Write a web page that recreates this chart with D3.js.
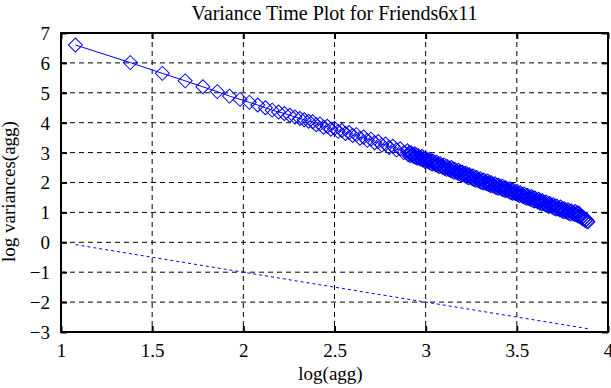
<!DOCTYPE html>
<html>
<head>
<meta charset="utf-8">
<script src="https://cdn.jsdelivr.net/npm/d3@7"></script>
<style>
  html, body { margin: 0; padding: 0; background: #fff; }
  svg { display: block; }
</style>
</head>
<body>
<svg id="chart" width="611" height="388"></svg>
<script>
// ---- data ----
const chartTitle = "Variance Time Plot for Friends6x11";
const xLabel = "log(agg)";
const yLabel = "log variances(agg)";

const xTicks = [1, 1.5, 2, 2.5, 3, 3.5, 4];
const xTickLabels = ["1", "1.5", "2", "2.5", "3", "3.5", "4"];
const yTicks = [-3, -2, -1, 0, 1, 2, 3, 4, 5, 6, 7];
const yTickLabels = ["\u22123", "\u22122", "\u22121", "0", "1", "2", "3", "4", "5", "6", "7"];

// log(agg) values of the measured points
const logAgg = [
  1.079, 1.380, 1.556, 1.681, 1.778, 1.857, 1.924, 1.982, 2.033, 2.079,
  2.121, 2.158, 2.193, 2.225, 2.255, 2.283, 2.310, 2.334, 2.358,
  2.38, 2.40, 2.42, 2.44, 2.46, 2.48, 2.50, 2.52, 2.54, 2.56, 2.58, 2.60,
  2.62, 2.64, 2.66, 2.68, 2.70, 2.72, 2.74, 2.76, 2.78, 2.80, 2.82, 2.84,
  2.86, 2.88,
  2.900, 2.905, 2.910, 2.915, 2.920, 2.925, 2.930, 2.935, 2.940, 2.945,
  2.950, 2.955, 2.960, 2.965, 2.970, 2.975, 2.980, 2.985, 2.990, 2.995,
  3.000, 3.005, 3.010, 3.015, 3.020, 3.025, 3.030, 3.035, 3.040, 3.045,
  3.050, 3.055, 3.060, 3.065, 3.070, 3.075, 3.080, 3.085, 3.090, 3.095,
  3.100, 3.105, 3.110, 3.115, 3.120, 3.125, 3.130, 3.135, 3.140, 3.145,
  3.150, 3.155, 3.160, 3.165, 3.170, 3.175, 3.180, 3.185, 3.190, 3.195,
  3.200, 3.205, 3.210, 3.215, 3.220, 3.225, 3.230, 3.235, 3.240, 3.245,
  3.250, 3.255, 3.260, 3.265, 3.270, 3.275, 3.280, 3.285, 3.290, 3.295,
  3.300, 3.305, 3.310, 3.315, 3.320, 3.325, 3.330, 3.335, 3.340, 3.345,
  3.350, 3.355, 3.360, 3.365, 3.370, 3.375, 3.380, 3.385, 3.390, 3.395,
  3.400, 3.405, 3.410, 3.415, 3.420, 3.425, 3.430, 3.435, 3.440, 3.445,
  3.450, 3.455, 3.460, 3.465, 3.470, 3.475, 3.480, 3.485, 3.490, 3.495,
  3.500, 3.505, 3.510, 3.515, 3.520, 3.525, 3.530, 3.535, 3.540, 3.545,
  3.550, 3.555, 3.560, 3.565, 3.570, 3.575, 3.580, 3.585, 3.590, 3.595,
  3.600, 3.605, 3.610, 3.615, 3.620, 3.625, 3.630, 3.635, 3.640, 3.645,
  3.650, 3.655, 3.660, 3.665, 3.670, 3.675, 3.680, 3.685, 3.690, 3.695,
  3.700, 3.705, 3.710, 3.715, 3.720, 3.725, 3.730, 3.735, 3.740, 3.745,
  3.750, 3.755, 3.760, 3.765, 3.770, 3.775, 3.780, 3.785, 3.790, 3.795,
  3.800, 3.805, 3.810, 3.815, 3.820, 3.825, 3.830, 3.835, 3.840, 3.845,
  3.850, 3.855, 3.860, 3.865, 3.870, 3.875, 3.880, 3.885, 3.890
];
// log variances(agg) of the measured points
const logVar = [
  6.60, 6.01, 5.65, 5.40, 5.20, 5.04, 4.89, 4.78, 4.68, 4.59,
  4.50, 4.42, 4.36, 4.31, 4.25, 4.19, 4.14, 4.10, 4.05,
  4.03, 3.93, 3.96, 3.85, 3.88, 3.78, 3.81, 3.71, 3.74, 3.64, 3.67, 3.57,
  3.60, 3.48, 3.52, 3.41, 3.45, 3.33, 3.37, 3.25, 3.29, 3.17, 3.21, 3.09,
  3.13, 3.00,
  3.06, 2.93, 3.00, 2.90, 3.00, 2.91, 2.94, 2.87, 2.96, 2.84,
  2.91, 2.81, 2.90, 2.81, 2.84, 2.78, 2.87, 2.75, 2.81, 2.71,
  2.81, 2.72, 2.75, 2.69, 2.77, 2.65, 2.72, 2.62, 2.72, 2.63,
  2.66, 2.59, 2.68, 2.56, 2.63, 2.53, 2.63, 2.54, 2.56, 2.50,
  2.59, 2.47, 2.54, 2.44, 2.53, 2.44, 2.47, 2.41, 2.50, 2.38,
  2.45, 2.34, 2.44, 2.35, 2.38, 2.32, 2.41, 2.29, 2.35, 2.25,
  2.35, 2.26, 2.29, 2.23, 2.31, 2.19, 2.26, 2.16, 2.26, 2.17,
  2.20, 2.13, 2.22, 2.10, 2.17, 2.07, 2.17, 2.08, 2.10, 2.04,
  2.13, 2.01, 2.08, 1.98, 2.08, 1.99, 2.02, 1.96, 2.05, 1.93,
  2.00, 1.90, 1.99, 1.90, 1.93, 1.87, 1.96, 1.84, 1.91, 1.81,
  1.91, 1.82, 1.85, 1.79, 1.88, 1.76, 1.83, 1.73, 1.83, 1.74,
  1.77, 1.71, 1.79, 1.67, 1.74, 1.64, 1.74, 1.65, 1.68, 1.62,
  1.71, 1.59, 1.66, 1.56, 1.66, 1.56, 1.59, 1.53, 1.62, 1.50,
  1.57, 1.47, 1.57, 1.47, 1.50, 1.44, 1.53, 1.41, 1.48, 1.38,
  1.48, 1.39, 1.41, 1.35, 1.44, 1.32, 1.39, 1.29, 1.39, 1.30,
  1.32, 1.26, 1.35, 1.23, 1.30, 1.20, 1.30, 1.21, 1.24, 1.18,
  1.26, 1.14, 1.21, 1.11, 1.21, 1.12, 1.15, 1.09, 1.18, 1.06,
  1.12, 1.02, 1.12, 1.03, 1.06, 1.00, 1.09, 0.97, 1.05, 0.95,
  1.05, 0.97, 1.00, 0.94, 1.03, 0.92, 0.99, 0.88, 0.97, 0.86,
  0.88, 0.81, 0.86, 0.78, 0.80, 0.73, 0.76, 0.70, 0.69
];
// reference line (slope -1)
const refX = [1.08, 3.89];
const refY = [-0.08, -2.89];

// ---- layout ----
const FONT = '"Liberation Serif"';
const FS = 19;
const svg = d3.select("#chart");
const L = 61, R = 608, T = 33, B = 332;
const x = d3.scaleLinear().domain([1, 4]).range([L, R]);
const y = d3.scaleLinear().domain([-3, 7]).range([B, T]);
const blue = "#0000ff";

// grid
const g = svg.append("g");
g.selectAll(".vg").data(xTicks.slice(1, -1)).enter().append("line")
  .attr("x1", d => x(d)).attr("x2", d => x(d)).attr("y1", T).attr("y2", B)
  .attr("stroke", "#000").attr("stroke-width", 1).attr("stroke-dasharray", "5,4");
g.selectAll(".hg").data(yTicks.slice(1, -1)).enter().append("line")
  .attr("x1", L).attr("x2", R).attr("y1", d => y(d)).attr("y2", d => y(d))
  .attr("stroke", "#000").attr("stroke-width", 1).attr("stroke-dasharray", "5,4");

// axes with inward ticks
const axB = svg.append("g").attr("transform", `translate(0,${B})`)
  .call(d3.axisBottom(x).tickValues(xTicks).tickFormat((d, i) => xTickLabels[i]).tickSize(-6).tickPadding(12));
const axT = svg.append("g").attr("transform", `translate(0,${T})`)
  .call(d3.axisTop(x).tickValues(xTicks).tickFormat("").tickSize(-6));
const axL = svg.append("g").attr("transform", `translate(${L},0)`)
  .call(d3.axisLeft(y).tickValues(yTicks).tickFormat((d, i) => yTickLabels[i]).tickSize(-6).tickPadding(11));
const axR = svg.append("g").attr("transform", `translate(${R},0)`)
  .call(d3.axisRight(y).tickValues(yTicks).tickFormat("").tickSize(-6));
[axB, axT, axL, axR].forEach(a => {
  a.attr("font-family", null);
  a.select(".domain").remove();
  a.selectAll(".tick line").attr("stroke", "#000").attr("stroke-width", 2);
  a.selectAll("text").attr("font-size", FS).style("font-family", FONT).attr("fill", "#000");
});
axL.selectAll(".tick text").attr("dy", "0.34em");

// frame
svg.append("rect").attr("x", x(1)).attr("y", y(7)).attr("width", x(4) - x(1)).attr("height", y(-3) - y(7))
  .attr("fill", "none").attr("stroke", "#000").attr("stroke-width", 2);

// data line + diamonds
const pts = logAgg.map((v, i) => [v, logVar[i]]);
svg.append("path").datum(pts.slice(0, 45))
  .attr("d", d3.line().x(d => x(d[0])).y(d => y(d[1])))
  .attr("fill", "none").attr("stroke", blue).attr("stroke-width", 1);
const sym = d3.symbol().type(d3.symbolSquare).size(98);
svg.append("g").selectAll("path").data(pts).enter().append("path")
  .attr("d", sym)
  .attr("transform", d => `translate(${x(d[0])},${y(d[1])}) rotate(45)`)
  .attr("fill", "none").attr("stroke", blue).attr("stroke-width", 1);

// reference line
svg.append("path").datum(refX.map((v, i) => [v, refY[i]]))
  .attr("d", d3.line().x(d => x(d[0])).y(d => y(d[1])))
  .attr("fill", "none").attr("stroke", blue).attr("stroke-width", 1).attr("stroke-dasharray", "3,3");

// titles
svg.append("text").attr("x", (L + R) / 2).attr("y", 20).attr("text-anchor", "middle")
  .style("font-family", FONT).attr("font-size", 20).text(chartTitle);
svg.append("text").attr("x", (L + R) / 2 - 4).attr("y", 380).attr("text-anchor", "middle")
  .style("font-family", FONT).attr("font-size", FS).text(xLabel);
svg.append("text").attr("transform", `translate(15,${(T + B) / 2 + 9}) rotate(-90)`).attr("text-anchor", "middle")
  .style("font-family", FONT).attr("font-size", FS).text(yLabel);
</script>
</body>
</html>
